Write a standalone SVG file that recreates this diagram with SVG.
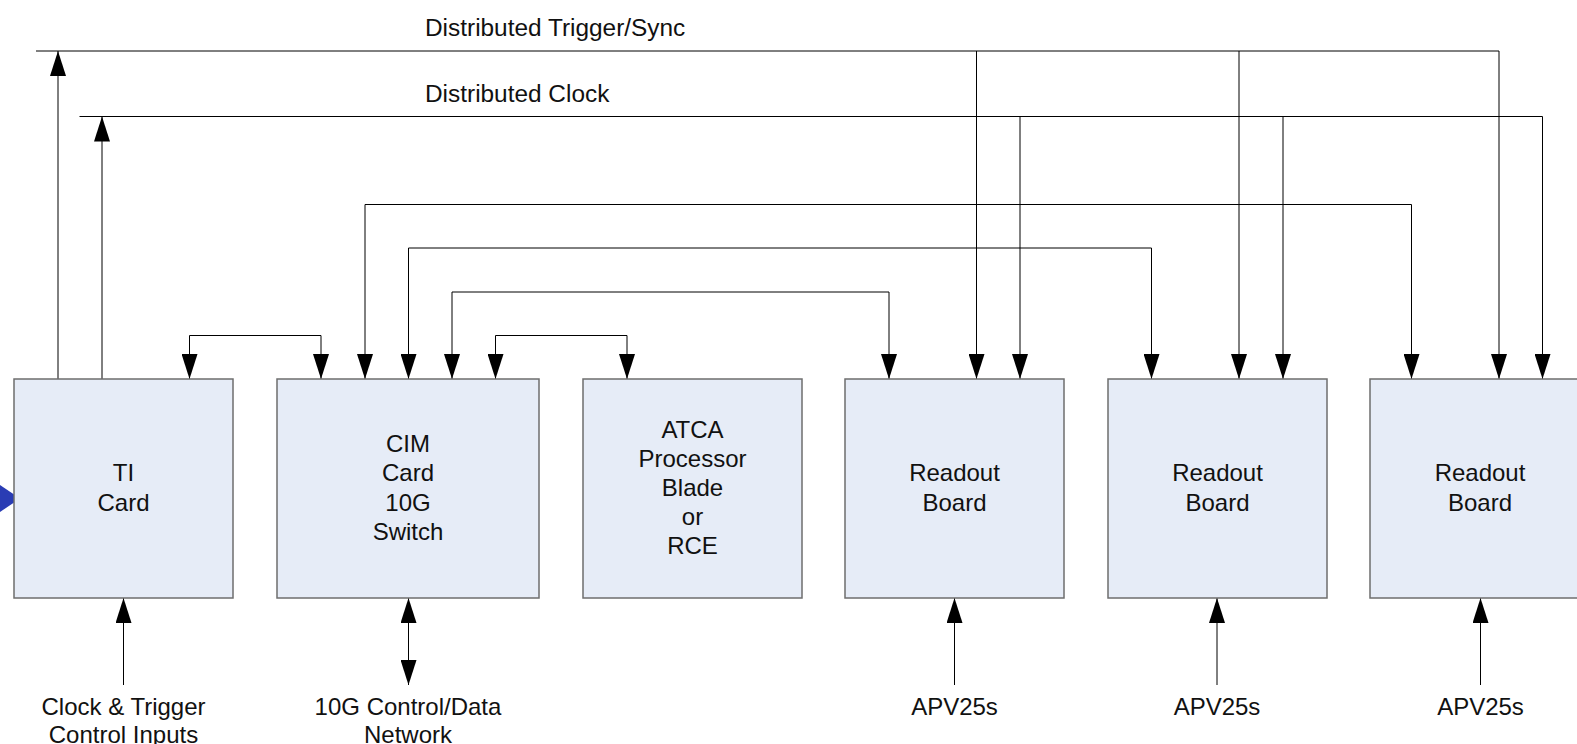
<svg xmlns="http://www.w3.org/2000/svg" width="1577" height="744" viewBox="0 0 1577 744">
<style>
.box{fill:#E6ECF7;stroke:#6e6e6e;stroke-width:1.5}
.t{font-family:"Liberation Sans",Arial,sans-serif;font-size:24px;fill:#111;text-anchor:middle}
.tl{font-family:"Liberation Sans",Arial,sans-serif;font-size:24.4px;fill:#111}
.c{fill:none;stroke:#000;stroke-width:1}
.a1{marker-end:url(#ah)}
.a2{marker-start:url(#ah);marker-end:url(#ah)}
</style>
<defs>
<marker id="ah" markerUnits="userSpaceOnUse" markerWidth="25" markerHeight="16" viewBox="0 0 25 16" refX="25" refY="8" orient="auto-start-reverse">
<path d="M0,0 L25,8 L0,16 z" fill="#000"/>
</marker>
</defs>
<g id="connectors">
<path class="c" d="M36,51 H1499"/>
<path class="c" d="M79.5,116.5 H1542.5"/>
<path class="c a1" d="M58,379 V51"/>
<path class="c a1" d="M102,379 V116.5"/>
<path class="c a1" d="M976.5,51 V379"/>
<path class="c a1" d="M1239,51 V379"/>
<path class="c a1" d="M1499,51 V379"/>
<path class="c a1" d="M1020,116.5 V379"/>
<path class="c a1" d="M1283,116.5 V379"/>
<path class="c a1" d="M1542.5,116.5 V379"/>
<path class="c a2" d="M189.5,379 V335.5 H321 V379"/>
<path class="c a2" d="M495.5,379 V335.5 H627 V379"/>
<path class="c a2" d="M365,379 V204.5 H1411.5 V379"/>
<path class="c a2" d="M408.5,379 V248 H1151.5 V379"/>
<path class="c a2" d="M452,379 V292 H889 V379"/>
<path class="c a1" d="M123.5,685 V598"/>
<path class="c a2" d="M408.5,598 V685"/>
<path class="c a1" d="M954.5,685 V598"/>
<path class="c a1" d="M1217,685 V598"/>
<path class="c a1" d="M1480.5,685 V598"/>
<polygon points="0,485 20,498.5 0,512" fill="#2A3CB4"/>
</g>
<g id="ti">
<rect class="box" x="14" y="379" width="219" height="219"/>
<text class="t" x="123.5" y="481">TI</text>
<text class="t" x="123.5" y="511">Card</text>
</g>
<g id="cim">
<rect class="box" x="277" y="379" width="262" height="219"/>
<text class="t" x="408" y="451.5">CIM</text>
<text class="t" x="408" y="481">Card</text>
<text class="t" x="408" y="510.5">10G</text>
<text class="t" x="408" y="540">Switch</text>
</g>
<g id="atca">
<rect class="box" x="583" y="379" width="219" height="219"/>
<text class="t" x="692.5" y="438">ATCA</text>
<text class="t" x="692.5" y="467">Processor</text>
<text class="t" x="692.5" y="496">Blade</text>
<text class="t" x="692.5" y="525">or</text>
<text class="t" x="692.5" y="554">RCE</text>
</g>
<g id="readout1">
<rect class="box" x="845" y="379" width="219" height="219"/>
<text class="t" x="954.5" y="481">Readout</text>
<text class="t" x="954.5" y="511">Board</text>
</g>
<g id="readout2">
<rect class="box" x="1108" y="379" width="219" height="219"/>
<text class="t" x="1217.5" y="481">Readout</text>
<text class="t" x="1217.5" y="511">Board</text>
</g>
<g id="readout3">
<rect class="box" x="1370" y="379" width="219" height="219"/>
<text class="t" x="1480" y="481">Readout</text>
<text class="t" x="1480" y="511">Board</text>
</g>
<g id="labels">
<text class="tl" x="425" y="36">Distributed Trigger/Sync</text>
<text class="tl" x="425" y="102">Distributed Clock</text>
<text class="t" x="123.5" y="715">Clock &amp; Trigger</text>
<text class="t" x="123.5" y="743">Control Inputs</text>
<text class="t" x="408" y="715">10G Control/Data</text>
<text class="t" x="408" y="743">Network</text>
<text class="t" x="954.5" y="715">APV25s</text>
<text class="t" x="1217" y="715">APV25s</text>
<text class="t" x="1480.5" y="715">APV25s</text>
</g>
</svg>
